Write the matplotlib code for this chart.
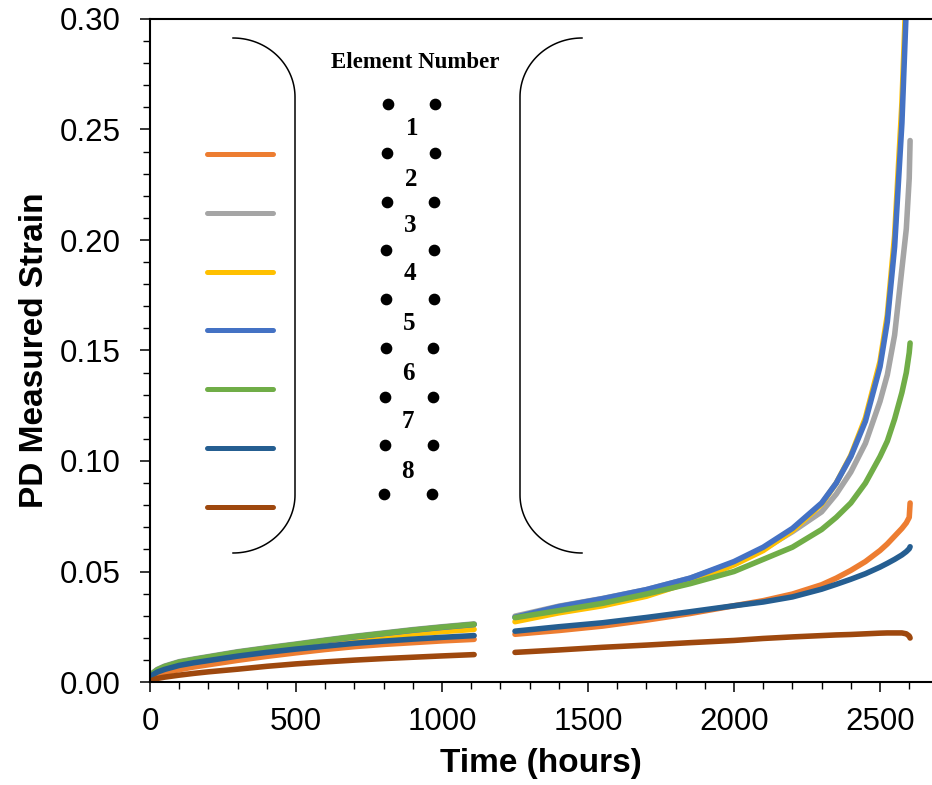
import numpy as np
import matplotlib
matplotlib.use("Agg")
import matplotlib.pyplot as plt
from matplotlib.ticker import MultipleLocator, FormatStrFormatter

# element series, in the order they were plotted
elements = ["1", "2", "3", "4", "5", "6", "7", "8"]
colors = ["#ED7D31", "#A5A5A5", "#FFC000", "#4472C4", "#70AD47", "#255E91", "#9E480E"]
series = ["orange", "gray", "yellow", "blue", "green", "navy", "brown"]

# first loading period (hours)
hours_a = [0, 10, 25, 50, 100, 150, 200, 300, 400, 500, 600, 700, 800, 900, 1000, 1110]
strain_a = {
    "orange": [0.0012, 0.0022, 0.0031, 0.0041, 0.0056, 0.0068, 0.0078, 0.0098, 0.0116, 0.0132, 0.0147, 0.0160, 0.0170, 0.0178, 0.0186, 0.0193],
    "gray":   [0.0026, 0.0042, 0.0057, 0.0072, 0.0092, 0.0104, 0.0115, 0.0137, 0.0155, 0.0172, 0.0190, 0.0207, 0.0222, 0.0237, 0.0250, 0.0263],
    "yellow": [0.0022, 0.0037, 0.0051, 0.0065, 0.0085, 0.0097, 0.0108, 0.0128, 0.0146, 0.0162, 0.0177, 0.0192, 0.0206, 0.0217, 0.0228, 0.0238],
    "blue":   [0.0023, 0.0039, 0.0054, 0.0069, 0.0089, 0.0101, 0.0112, 0.0134, 0.0152, 0.0169, 0.0187, 0.0204, 0.0219, 0.0234, 0.0247, 0.0260],
    "green":  [0.0024, 0.0040, 0.0055, 0.0070, 0.0090, 0.0102, 0.0113, 0.0135, 0.0153, 0.0170, 0.0188, 0.0205, 0.0220, 0.0235, 0.0248, 0.0261],
    "navy":   [0.0020, 0.0033, 0.0045, 0.0057, 0.0075, 0.0087, 0.0097, 0.0117, 0.0134, 0.0149, 0.0162, 0.0175, 0.0185, 0.0194, 0.0202, 0.0210],
    "brown":  [0.0002, 0.0009, 0.0016, 0.0022, 0.0031, 0.0039, 0.0046, 0.0058, 0.0071, 0.0082, 0.0091, 0.0099, 0.0106, 0.0112, 0.0118, 0.0124],
}

# second loading period (hours)
hours_b = [1250, 1400, 1550, 1700, 1850, 2000, 2100, 2200, 2300, 2350, 2400, 2450, 2500, 2525, 2550, 2575, 2590, 2600, 2603]
strain_b = {
    "orange": [0.0216, 0.0233, 0.0253, 0.0280, 0.0310, 0.0345, 0.0368, 0.0398, 0.0440, 0.0470, 0.0505, 0.0545, 0.0595, 0.0625, 0.0660, 0.0695, 0.0720, 0.0745, 0.0810],
    "gray":   [0.0298, 0.0343, 0.0378, 0.0418, 0.0470, 0.0540, 0.0600, 0.0680, 0.0770, 0.0850, 0.0950, 0.1080, 0.1270, 0.1390, 0.1570, 0.1870, 0.2050, 0.2280, 0.2450],
    "yellow": [0.0273, 0.0313, 0.0345, 0.0388, 0.0452, 0.0530, 0.0595, 0.0685, 0.0805, 0.0900, 0.1025, 0.1195, 0.1450, 0.1660, 0.2020, 0.2620, 0.3150, 0.3550, 0.3700],
    "blue":   [0.0293, 0.0341, 0.0377, 0.0418, 0.0470, 0.0545, 0.0610, 0.0695, 0.0810, 0.0900, 0.1020, 0.1180, 0.1427, 0.1630, 0.1970, 0.2530, 0.3050, 0.3450, 0.3600],
    "green":  [0.0291, 0.0323, 0.0356, 0.0398, 0.0445, 0.0500, 0.0555, 0.0610, 0.0690, 0.0745, 0.0810, 0.0900, 0.1020, 0.1090, 0.1190, 0.1310, 0.1400, 0.1490, 0.1534],
    "navy":   [0.0230, 0.0250, 0.0268, 0.0292, 0.0318, 0.0345, 0.0362, 0.0385, 0.0420, 0.0442, 0.0465, 0.0490, 0.0520, 0.0537, 0.0555, 0.0575, 0.0590, 0.0603, 0.0612],
    "brown":  [0.0134, 0.0145, 0.0157, 0.0167, 0.0178, 0.0188, 0.0197, 0.0204, 0.0210, 0.0213, 0.0215, 0.0218, 0.0221, 0.0222, 0.0222, 0.0222, 0.0218, 0.0208, 0.0199],
}

W, H = 932, 785
fig = plt.figure(figsize=(W / 100, H / 100), dpi=100)
ax = fig.add_axes([150 / W, 103 / H, 782 / W, 663 / H])

for name, col in zip(series, colors):
    for hrs, vals in ((hours_a, strain_a[name]), (hours_b, strain_b[name])):
        ax.plot(hrs, vals, color=col, lw=4.0, solid_capstyle="round", solid_joinstyle="round")

ax.set_xlim(0, 2678)
ax.set_ylim(0, 0.30)
ax.xaxis.set_major_locator(MultipleLocator(500))
ax.xaxis.set_minor_locator(MultipleLocator(100))
ax.yaxis.set_major_locator(MultipleLocator(0.05))
ax.yaxis.set_minor_locator(MultipleLocator(0.01))
ax.yaxis.set_major_formatter(FormatStrFormatter("%.2f"))
ax.spines["right"].set_visible(False)
for s in ("left", "bottom", "top"):
    ax.spines[s].set_linewidth(1.5)
ax.tick_params(which="major", direction="out", length=7, width=1.1, labelsize=22.5)
ax.tick_params(which="minor", direction="out", length=5, width=1.0)
ax.tick_params(axis="y", which="major", pad=14)
ax.tick_params(axis="x", which="major", pad=11)
for lab in ax.get_xticklabels() + ax.get_yticklabels():
    lab.set_fontfamily("Liberation Sans")

ax.set_xlabel("Time (hours)", fontsize=24, fontweight="bold", family="Liberation Sans", labelpad=8)
ax.set_ylabel("PD Measured Strain", fontsize=24, fontweight="bold", family="Liberation Sans", labelpad=7)


def px(x, y):
    # pixel position (from top-left) to figure fraction
    return np.asarray(x) / W, 1 - np.asarray(y) / H


# legend swatches
for i, col in enumerate(colors):
    y = 153.7 + i * 58.9
    fx, fy = px([207, 273], [y, y])
    fig.add_artist(plt.Line2D(fx, fy, color=col, lw=3.6, solid_capstyle="round"))

# curved brackets around the legend
t = np.linspace(0, np.pi / 2, 40)
bx = np.concatenate([233 + 62 * np.cos(t[::-1]), [295, 295], 233 + 62 * np.cos(t)])
by = np.concatenate([97 - 59 * np.sin(t[::-1]), [97, 495], 495 + 58 * np.sin(t)])
for xs in (bx, 815 - bx):
    fx, fy = px(xs, by)
    fig.add_artist(plt.Line2D(fx, fy, color="black", lw=1.1))

# element layout: pairs of dots with element numbers between them
dot_y = 104 + np.arange(9) * 48.75
left_x = np.linspace(387.7, 384.3, 9)
right_x = np.linspace(435, 432.3, 9)
for xs in (left_x, right_x):
    fx, fy = px(xs, dot_y)
    fig.add_artist(plt.Line2D(fx, fy, ls="none", marker="o", ms=7.4, color="black"))

num_x = np.linspace(412, 407, 8)
num_y = [128.3, 180, 225, 273.3, 323.3, 373, 421.7, 471.7]
for lab, x, y in zip(elements, num_x, num_y):
    fx, fy = px(x, y)
    fig.text(fx, fy, lab, ha="center", va="center", fontsize=18, fontweight="bold", family="Liberation Serif")

fx, fy = px(415, 62.7)
fig.text(fx, fy, "Element Number", ha="center", va="center", fontsize=16.5, fontweight="bold", family="Liberation Serif")

fig.savefig("out.png", dpi=100)
